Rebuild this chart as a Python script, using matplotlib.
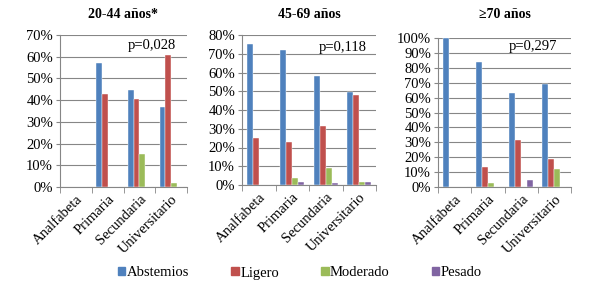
import matplotlib
matplotlib.use("Agg")
import matplotlib.pyplot as plt
import numpy as np
from matplotlib.patches import Patch

plt.rcParams['font.family'] = 'serif'
plt.rcParams['font.serif'] = ['Liberation Serif', 'DejaVu Serif']

categories = ["Analfabeta", "Primaria", "Secundaria", "Universitario"]
series = ["Abstemios", "Ligero", "Moderado", "Pesado"]
colors = ["#4F81BD", "#C0504D", "#9BBB59", "#8064A2"]

titles = ["20-44 años*", "45-69 años", "≥70 años"]
pvalues = ["p=0,028", "p=0,118", "p=0,297"]
ymax = [70, 80, 100]

# values per panel: rows = series, cols = categories
panel1 = {
    "Abstemios": [0, 57, 44.5, 37],
    "Ligero": [0, 43, 40.5, 61],
    "Moderado": [0, 0, 15, 2],
    "Pesado": [0, 0, 0, 0],
}
panel2 = {
    "Abstemios": [75, 72, 58, 49.5],
    "Ligero": [25, 23, 31.5, 48],
    "Moderado": [0, 3.5, 9, 1.5],
    "Pesado": [0, 1.5, 1, 1.5],
}
panel3 = {
    "Abstemios": [100, 84, 63, 69],
    "Ligero": [0, 13.5, 31.5, 18.5],
    "Moderado": [0, 2.5, 0, 12],
    "Pesado": [0, 0, 5, 0],
}
panels = [panel1, panel2, panel3]

fig = plt.figure(figsize=(6, 2.88), dpi=100)
W, H = 600, 288
rects = [(60, 35, 187, 187), (242, 35, 376, 185), (438, 38, 571, 187)]
ppos = [(0.913, 0.934), (0.93, 0.92), (0.895, 0.94)]

bw = 1 / 5.5
x = np.arange(len(categories))
for i, (data, r) in enumerate(zip(panels, rects)):
    x0, y0, x1, y1 = r
    ax = fig.add_axes([x0 / W, 1 - y1 / H, (x1 - x0) / W, (y1 - y0) / H])
    for j, s in enumerate(series):
        offs = (j - 1.5) * bw
        ax.bar(x + offs, data[s], width=bw, color=colors[j], zorder=3,
               edgecolor='white', linewidth=0.3)
    ax.set_xlim(-0.5, len(categories) - 0.5)
    ax.set_ylim(0, ymax[i])
    ticks = np.arange(0, ymax[i] + 1, 10)
    ax.set_yticks(ticks)
    ax.set_yticklabels([f"{t}%" for t in ticks], fontsize=10.5)
    ax.yaxis.grid(True, color='#868686', linewidth=0.8, zorder=0)
    ax.set_xticks(x)
    ax.set_xticklabels(categories, rotation=45, ha='right', rotation_mode='anchor', fontsize=10.5)
    ax.tick_params(axis='x', length=0, pad=4)
    ax.set_xticks(np.arange(-0.5, len(categories), 1), minor=True)
    ax.tick_params(axis='x', which='minor', length=4, color='#868686')
    ax.tick_params(axis='y', length=3, color='#868686', pad=2)
    for sp in ['top', 'right']:
        ax.spines[sp].set_visible(False)
    for sp in ['left', 'bottom']:
        ax.spines[sp].set_color('#868686')
    ax.text(ppos[i][0], ppos[i][1], pvalues[i], transform=ax.transAxes, ha='right',
            va='center', fontsize=10.5, zorder=5)
    fig.text((x0 + x1) / 2 / W, 1 - 15 / H, titles[i], ha='center', va='center',
             fontsize=10, fontweight='bold')

handles = [Patch(color=c, label=s) for c, s in zip(colors, series)]
fig.legend(handles=handles, loc='center', bbox_to_anchor=(0.5, 1 - 273 / H), ncol=4,
           frameon=False, fontsize=10.5, handlelength=0.5, handleheight=0.5,
           handletextpad=0.1, columnspacing=2.9)

fig.savefig("out.png", dpi=100)
